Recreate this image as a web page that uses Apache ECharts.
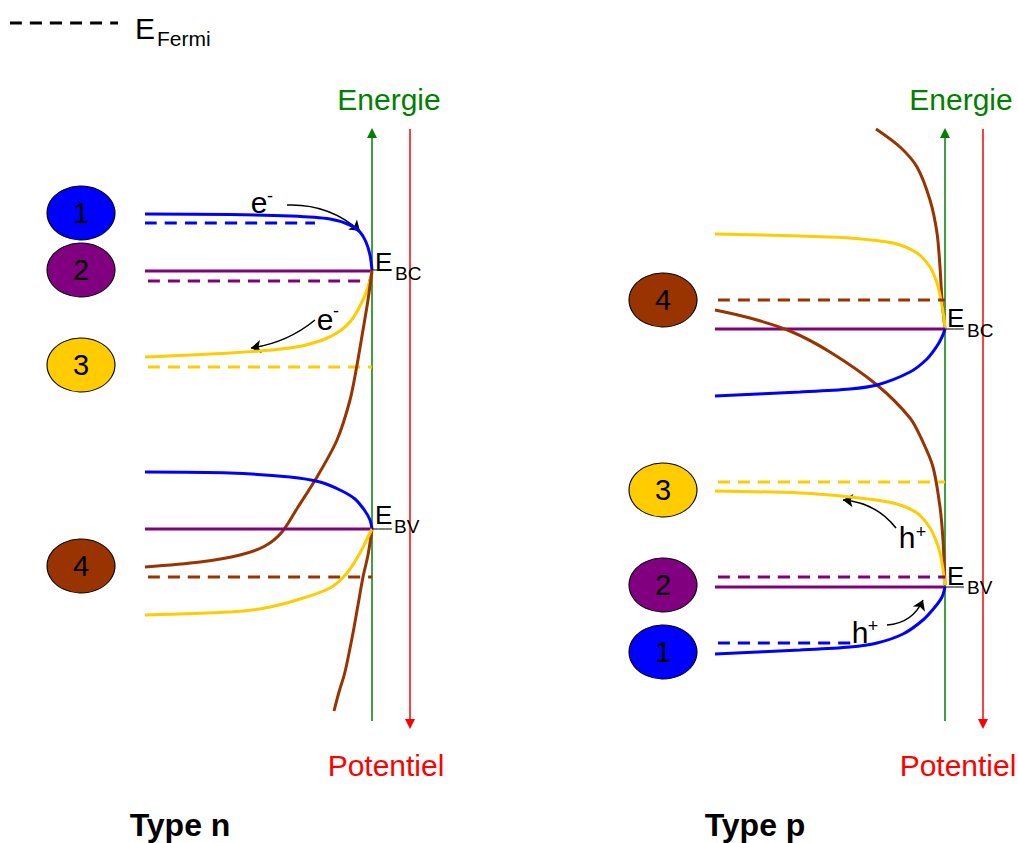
<!DOCTYPE html>
<html>
<head>
<meta charset="utf-8">
<title>Bandes - type n / type p</title>
<script src="https://cdn.jsdelivr.net/npm/echarts@6/dist/echarts.min.js"></script>
<style>
  html, body { margin: 0; padding: 0; background: #fff; }
  #chart { width: 1018px; height: 843px; }
</style>
</head>
<body>
<div id="chart"></div>
<script>
// ---- texts ----
var panelTitles = ['Type n', 'Type p'];
var axisNames = ['Energie', 'Potentiel'];
var circleIds = ['1', '2', '3', '4'];
var fermiLabel = ['E', 'Fermi'];
var carrierLabels = [['e', '-'], ['h', '+']];

// ---- type n : curves (x, y in picture units) ----
var nBlueCB = [[145,214],[230,214.5],[290,216],[330,219],[350,225],[360,232],[366,242],[370,255],[372,270]];
var nBlueFermi = [[145,223],[315,223]];
var nPurpleCB = [[145,271],[372,271]];
var nPurpleFermi = [[148,281],[372,281]];
var nYellowCB = [[145,357],[230,353],[290,348],[320,341],[340,331],[353,318],[362,302],[368,287],[372,271]];
var nYellowFermi = [[148,367],[372,367]];
var nBrownCB = [[145,567],[200,562],[240,555],[265,546],[282,532],[298,507],[317,477],[337,440],[350,400],[357,365],[363,330],[368,300],[372,271]];
var nBrownBV = [[372,529],[368,555],[363,577],[358,605],[353,633],[345,672],[339,692],[334,711]];
var nBlueVB = [[145,472],[230,473],[290,477],[320,482],[340,490],[355,499],[365,511],[370,520],[372,529]];
var nPurpleVB = [[145,529],[372,529]];
var nBrownFermi = [[148,577],[372,577]];
var nYellowVB = [[145,615],[230,612],[265,608],[297,600],[330,588],[347,573],[360,553],[368,537],[372,529]];
var nCircles = [[81,213],[81,270],[81,365],[81,566]];

// ---- type p ----
var pBrownTop = [[876,129],[900,147],[917,167],[930,200],[937,233],[940,267],[942,300],[945,329]];
var pYellowCB = [[715,234],[800,236],[850,238],[893,243],[917,253],[930,267],[937,283],[941,300],[944,318],[945,329]];
var pBrownFermi = [[718,300],[945,300]];
var pPurpleCB = [[715,329],[945,329]];
var pBrownDiag = [[715,310],[750,318],[790,331],[830,352],[877,385],[910,418],[922,440],[933,467],[940,507],[943,540],[945,585]];
var pBlueCB = [[715,396],[800,392],[850,389],[877,385],[910,372],[927,359],[937,346],[942,337],[945,329]];
var pYellowFermi = [[718,482],[945,482]];
var pYellowVB = [[715,491],[800,493],[850,497],[893,503],[917,513],[930,528],[938,546],[942,563],[945,585]];
var pPurpleFermi = [[718,577],[945,577]];
var pPurpleVB = [[715,587],[945,587]];
var pBlueFermi = [[718,643],[858,643]];
var pBlueVB = [[715,654],[800,650],[850,647],[877,643],[903,634],[923,620],[935,607],[942,597],[945,587]];
var pCircles = [[663,652],[663,585],[663,490],[663,300]];

// axes of each panel: [energy bottom, energy top], [potential top, potential bottom]
var nEnergyAxis = [[372,721],[372,133]];
var nPotentialAxis = [[410,129],[410,724]];
var pEnergyAxis = [[945,721],[945,133]];
var pPotentialAxis = [[983,129],[983,724]];

// carrier arrows
var nArrows = [[[287,205],[360,231]], [[315,320],[251,348]]];
var pArrows = [[[896,528],[843,500]], [[887,625],[923,600]]];

var legendFermi = [[10,23],[118,23]];

var BLUE = '#0000ff', PURPLE = '#800080', YELLOW = '#ffcc00', BROWN = '#993300';
var GREEN = '#008000', RED = '#ff0000';
var FONT = '"Liberation Sans", Arial, sans-serif';
var circleColors = [BLUE, PURPLE, YELLOW, BROWN];

function curve(points, color, dashed, width) {
  return {
    type: 'line',
    data: points,
    smooth: 0.3,
    symbol: 'none',
    silent: true,
    lineStyle: { color: color, width: width || 3, type: dashed ? [12, 8] : 'solid', cap: 'butt', opacity: 1 },
    z: 3
  };
}

function arrowLines(list, bends, color, width, size, symbol) {
  return {
    type: 'lines',
    coordinateSystem: 'cartesian2d',
    silent: true,
    symbol: ['none', symbol],
    symbolSize: size,
    lineStyle: { color: color, width: width, opacity: 1 },
    data: list.map(function (c, i) {
      return { coords: c, lineStyle: { curveness: bends ? bends[i] : 0 } };
    }),
    z: 2
  };
}

function text(pos, str, size, color, align, weight) {
  return {
    type: 'scatter',
    data: [pos],
    symbolSize: 1,
    silent: true,
    itemStyle: { color: 'rgba(255,255,255,0)', opacity: 1 },
    label: {
      show: true,
      position: 'inside',
      formatter: str,
      fontSize: size,
      fontFamily: FONT,
      fontWeight: weight || 'normal',
      color: color || '#000',
      opacity: 1,
      textBorderWidth: 0,
      align: align || 'center',
      verticalAlign: 'middle'
    },
    z: 6
  };
}

function circles(points) {
  return {
    type: 'scatter',
    symbol: 'circle',
    symbolSize: [68, 54],
    silent: true,
    data: points.map(function (p, i) {
      return { value: p, name: circleIds[i], itemStyle: { color: circleColors[i] } };
    }),
    itemStyle: { borderColor: '#000', borderWidth: 1, opacity: 1 },
    label: {
      show: true, position: 'inside', formatter: '{b}',
      fontSize: 29, fontFamily: FONT, color: '#000', textBorderWidth: 0
    },
    z: 5
  };
}

var series = [
  // legend
  curve(legendFermi, '#000', true),
  text([135, 28], fermiLabel[0], 30, '#000', 'left'),
  text([157, 38], fermiLabel[1], 21, '#000', 'left'),

  // type n axes
  arrowLines([nEnergyAxis], null, GREEN, 1.5, 10, 'triangle'),
  arrowLines([nPotentialAxis], null, RED, 1.5, 10, 'triangle'),
  // type n bands
  curve(nBlueCB, BLUE), curve(nBlueFermi, BLUE, true),
  curve(nPurpleCB, PURPLE), curve(nPurpleFermi, PURPLE, true),
  curve(nYellowCB, YELLOW), curve(nYellowFermi, YELLOW, true),
  curve(nBrownCB, BROWN), curve(nBrownBV, BROWN),
  curve(nBlueVB, BLUE), curve(nPurpleVB, PURPLE),
  curve(nBrownFermi, BROWN, true), curve(nYellowVB, YELLOW),
  curve([[372,270],[392,270]], '#000', false, 1),
  curve([[372,529],[392,529]], '#000', false, 1),
  arrowLines(nArrows, [0.2, 0.14], '#000', 1.5, 10, 'arrow'),
  circles(nCircles),

  // type p axes
  arrowLines([pEnergyAxis], null, GREEN, 1.5, 10, 'triangle'),
  arrowLines([pPotentialAxis], null, RED, 1.5, 10, 'triangle'),
  // type p bands
  curve(pBrownTop, BROWN), curve(pYellowCB, YELLOW),
  curve(pBrownFermi, BROWN, true), curve(pPurpleCB, PURPLE),
  curve(pBrownDiag, BROWN), curve(pBlueCB, BLUE),
  curve(pYellowFermi, YELLOW, true), curve(pYellowVB, YELLOW),
  curve(pPurpleFermi, PURPLE, true), curve(pPurpleVB, PURPLE),
  curve(pBlueFermi, BLUE, true), curve(pBlueVB, BLUE),
  curve([[945,329],[964,329]], '#000', false, 1),
  curve([[945,587],[964,587]], '#000', false, 1),
  arrowLines(pArrows, [-0.22, -0.3], '#000', 1.5, 10, 'arrow'),
  circles(pCircles),

  // axis names
  text([389, 99], axisNames[0], 30, GREEN),
  text([961, 99], axisNames[0], 30, GREEN),
  text([386, 765], axisNames[1], 30, RED),
  text([958, 765], axisNames[1], 30, RED),

  // band edge labels
  text([375, 262], 'E', 26, '#000', 'left'),
  text([395, 273], 'BC', 19, '#000', 'left'),
  text([375, 515], 'E', 26, '#000', 'left'),
  text([394, 526], 'BV', 19, '#000', 'left'),
  text([947, 318], 'E', 26, '#000', 'left'),
  text([967, 330], 'BC', 19, '#000', 'left'),
  text([947, 576], 'E', 26, '#000', 'left'),
  text([967, 587], 'BV', 19, '#000', 'left'),

  // carriers
  text([259, 202], carrierLabels[0][0], 30),
  text([270, 196], carrierLabels[0][1], 18),
  text([325, 319], carrierLabels[0][0], 30),
  text([336, 311], carrierLabels[0][1], 18),
  text([907, 537], carrierLabels[1][0], 30),
  text([921, 532], carrierLabels[1][1], 18),
  text([860, 632], carrierLabels[1][0], 30),
  text([873, 626], carrierLabels[1][1], 18),

  // panel titles
  text([180, 825], panelTitles[0], 32, '#000', 'center', 'bold'),
  text([755, 825], panelTitles[1], 32, '#000', 'center', 'bold')
];

var chart = echarts.init(document.getElementById('chart'), null, { renderer: 'svg' });
chart.setOption({
  animation: false,
  backgroundColor: '#fff',
  grid: { left: 0, right: 0, top: 0, bottom: 0, outerBoundsMode: 'none' },
  xAxis: { type: 'value', min: 0, max: 1018, show: false },
  yAxis: { type: 'value', min: 0, max: 843, inverse: true, show: false },
  series: series
});
</script>
</body>
</html>
